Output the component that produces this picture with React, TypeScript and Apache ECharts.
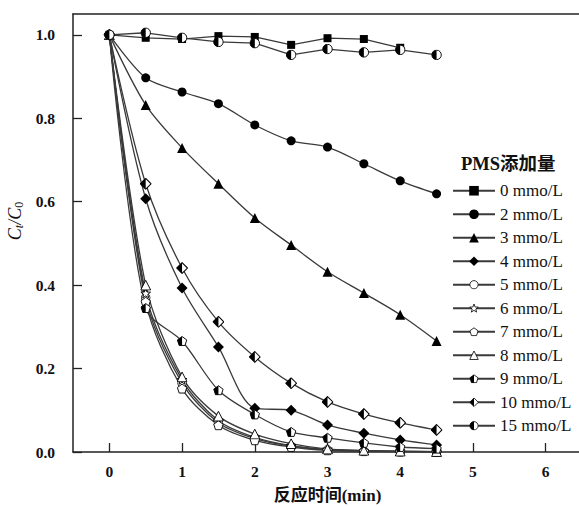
import React, { useEffect, useRef } from "react";
import * as echarts from "echarts";

const times = [0, 0.5, 1, 1.5, 2, 2.5, 3, 3.5, 4, 4.5];
const seriesNames = ["0 mmo/L", "2 mmo/L", "3 mmo/L", "4 mmo/L", "5 mmo/L", "6 mmo/L", "7 mmo/L", "8 mmo/L", "9 mmo/L", "10 mmo/L", "15 mmo/L"];
const v0 = [1.0, 0.993, 0.99, 0.997, 0.995, 0.976, 0.992, 0.99, 0.969];
const v2 = [1.0, 0.897, 0.863, 0.835, 0.784, 0.746, 0.731, 0.691, 0.65, 0.619];
const v3 = [1.0, 0.832, 0.729, 0.643, 0.561, 0.496, 0.432, 0.381, 0.329, 0.266];
const v4 = [1.0, 0.607, 0.393, 0.252, 0.105, 0.1, 0.065, 0.045, 0.029, 0.017];
const v5 = [1.0, 0.37, 0.165, 0.07, 0.032, 0.014, 0.005, 0.002, 0.001, 0.001];
const v6 = [1.0, 0.38, 0.173, 0.075, 0.035, 0.015, 0.006, 0.003, 0.002, 0.001];
const v7 = [1.0, 0.36, 0.152, 0.064, 0.028, 0.012, 0.004, 0.002, 0.001, 0.0];
const v8 = [1.0, 0.4, 0.18, 0.086, 0.043, 0.02, 0.007, 0.004, 0.002, 0.001];
const v9 = [1.0, 0.345, 0.266, 0.148, 0.09, 0.048, 0.034, 0.022, 0.012, 0.008];
const v10 = [1.0, 0.643, 0.441, 0.312, 0.228, 0.165, 0.12, 0.091, 0.07, 0.053];
const v15 = [1.0, 1.005, 0.993, 0.983, 0.98, 0.952, 0.966, 0.958, 0.964, 0.952];
const xTicks = [0, 1, 2, 3, 4, 5, 6];
const yTicks = [0, 0.2, 0.4, 0.6, 0.8, 1.0];

const SERIF = "'Liberation Serif', 'Times New Roman', 'Noto Sans CJK SC', serif";

function svgUri(inner: string) {
  const svg = `<svg xmlns="http://www.w3.org/2000/svg" viewBox="0 0 20 20" width="20" height="20">${inner}</svg>`;
  return "image://data:image/svg+xml;charset=utf-8," + encodeURIComponent(svg);
}
function polyPts(n: number, r: number, cx: number, cy: number, inner?: number) {
  const pts: string[] = [];
  const count = inner ? n * 2 : n;
  for (let i = 0; i < count; i++) {
    const a = -Math.PI / 2 + (i * 2 * Math.PI) / count;
    const rr = inner && i % 2 === 1 ? inner : r;
    pts.push(`${(cx + rr * Math.cos(a)).toFixed(2)},${(cy + rr * Math.sin(a)).toFixed(2)}`);
  }
  return pts.join(" ");
}
const pent = polyPts(5, 9, 10, 10.8);
const pentArr = pent.split(" ");
const SYM_STAR = svgUri(`<polygon points="${polyPts(5, 9.3, 10, 10.5, 3.9)}" fill="#fff" stroke="#000" stroke-width="1.7"/>`);
const SYM_PENT = svgUri(`<polygon points="${pent}" fill="#fff" stroke="#000" stroke-width="1.7"/>`);
const SYM_OCIR = svgUri(`<circle cx="10" cy="10" r="8.6" fill="#fff" stroke="#000" stroke-width="1.7"/>`);
const SYM_OTRI = svgUri(`<polygon points="10,1.2 19,18.8 1,18.8" fill="#fff" stroke="#000" stroke-width="1.7"/>`);
const SYM_HPENT = svgUri(
  `<polygon points="${pent}" fill="#fff" stroke="#000" stroke-width="1.7"/>` +
    `<polygon points="${pentArr[0]} ${pentArr[4]} ${pentArr[3]} 10,${pentArr[3].split(",")[1]}" fill="#000"/>`
);
const SYM_HDIA = svgUri(
  `<polygon points="10,1 19,10 10,19 1,10" fill="#fff" stroke="#000" stroke-width="1.7"/>` +
    `<polygon points="10,1 1,10 10,19" fill="#000"/>`
);
const SYM_HCIR = svgUri(
  `<circle cx="10" cy="10" r="8.6" fill="#fff" stroke="#000" stroke-width="1.7"/>` +
    `<path d="M10 1.4 A8.6 8.6 0 0 0 10 18.6 Z" fill="#000"/>`
);

const allValues = [v0, v2, v3, v4, v5, v6, v7, v8, v9, v10, v15];
const symbols = ["rect", "circle", "triangle", "diamond", SYM_OCIR, SYM_STAR, SYM_PENT, SYM_OTRI, SYM_HPENT, SYM_HDIA, SYM_HCIR];
const symbolSizes = [8, 9, 10, 11, 10, 11, 11, 11, 11, 12, 11];
const smoothFlags = [false, 0.3, 0.3, 0.3, 0.3, 0.3, 0.3, 0.3, 0.3, 0.3, false];

export default function App() {
  const ref = useRef<HTMLDivElement>(null);
  useEffect(() => {
    if (!ref.current) return;
    const chart = echarts.init(ref.current, undefined, { renderer: "svg" });
    const series = seriesNames.map((name, i) => ({
      name,
      type: "line",
      data: allValues[i].map((v, k) => [times[k], v]),
      smooth: smoothFlags[i],
      symbol: symbols[i],
      symbolSize: symbolSizes[i],
      showSymbol: true,
      lineStyle: { color: "#3a3a3a", width: 1.3 },
      itemStyle: { color: "#000", borderWidth: 0 },
      emphasis: { disabled: true },
      z: 2,
    }));
    chart.setOption({
      animation: false,
      backgroundColor: "#fff",
      grid: { left: 73, top: 14, width: 509, height: 438, outerBoundsMode: "none", containLabel: false },
      title: {
        text: "PMS添加量",
        left: 456,
        top: 150,
        textStyle: { fontFamily: SERIF, fontSize: 18.5, fontWeight: "bold", color: "#111" },
      },
      legend: {
        orient: "vertical",
        left: 452,
        top: 179,
        padding: 0,
        itemWidth: 42,
        itemHeight: 12,
        itemGap: 0,
        data: seriesNames,
        itemStyle: { borderWidth: 0 },
        textStyle: { fontFamily: SERIF, fontSize: 17, color: "#111", lineHeight: 23.5 },
      },
      xAxis: [
        {
          type: "value",
          min: -0.5,
          max: 6.5,
          name: "反应时间(min)",
          nameLocation: "middle",
          nameGap: 35,
          nameTextStyle: { fontFamily: SERIF, fontSize: 17, fontWeight: "bold", color: "#111" },
          axisLine: { show: true, onZero: false, lineStyle: { color: "#222", width: 1.5 } },
          axisTick: { show: true, inside: true, length: 9, customValues: xTicks, lineStyle: { color: "#222", width: 1.3 } },
          axisLabel: {
            customValues: xTicks,
            margin: 12,
            fontFamily: SERIF,
            fontSize: 15.5,
            fontWeight: "bold",
            color: "#111",
          },
          splitLine: { show: false },
        },
        {
          type: "value",
          position: "top",
          min: -0.5,
          max: 6.5,
          axisLine: { show: true, onZero: false, lineStyle: { color: "#222", width: 1.5 } },
          axisTick: { show: false },
          axisLabel: { show: false },
          splitLine: { show: false },
        },
      ],
      yAxis: {
        type: "value",
        min: 0,
        max: 1.05,
        name: "{c|C}{t|t}{c|/C}{z|0}",
        nameLocation: "middle",
        nameRotate: 90,
        nameGap: 39,
        nameTextStyle: {
          padding: [0, 0, 0, 24],
          rich: {
            c: { fontFamily: SERIF, fontSize: 18, fontStyle: "italic", color: "#111" },
            t: { fontFamily: SERIF, fontSize: 12, fontStyle: "italic", color: "#111", verticalAlign: "bottom", padding: [8, 0, 0, 0] },
            z: { fontFamily: SERIF, fontSize: 12, color: "#111", verticalAlign: "bottom", padding: [8, 0, 0, 0] },
          },
        },
        axisLine: { show: true, onZero: false, lineStyle: { color: "#222", width: 1.5 } },
        axisTick: { show: true, inside: true, length: 9, customValues: yTicks, lineStyle: { color: "#222", width: 1.3 } },
        axisLabel: {
          customValues: yTicks,
          formatter: (v: number) => v.toFixed(1),
          margin: 18,
          fontFamily: SERIF,
          fontSize: 15.5,
          fontWeight: "bold",
          color: "#111",
        },
        splitLine: { show: false },
      },
      series,
    });
    return () => chart.dispose();
  }, []);
  return <div ref={ref} style={{ position: "fixed", left: 0, top: 0, width: 579, height: 506, background: "#fff" }} />;
}
